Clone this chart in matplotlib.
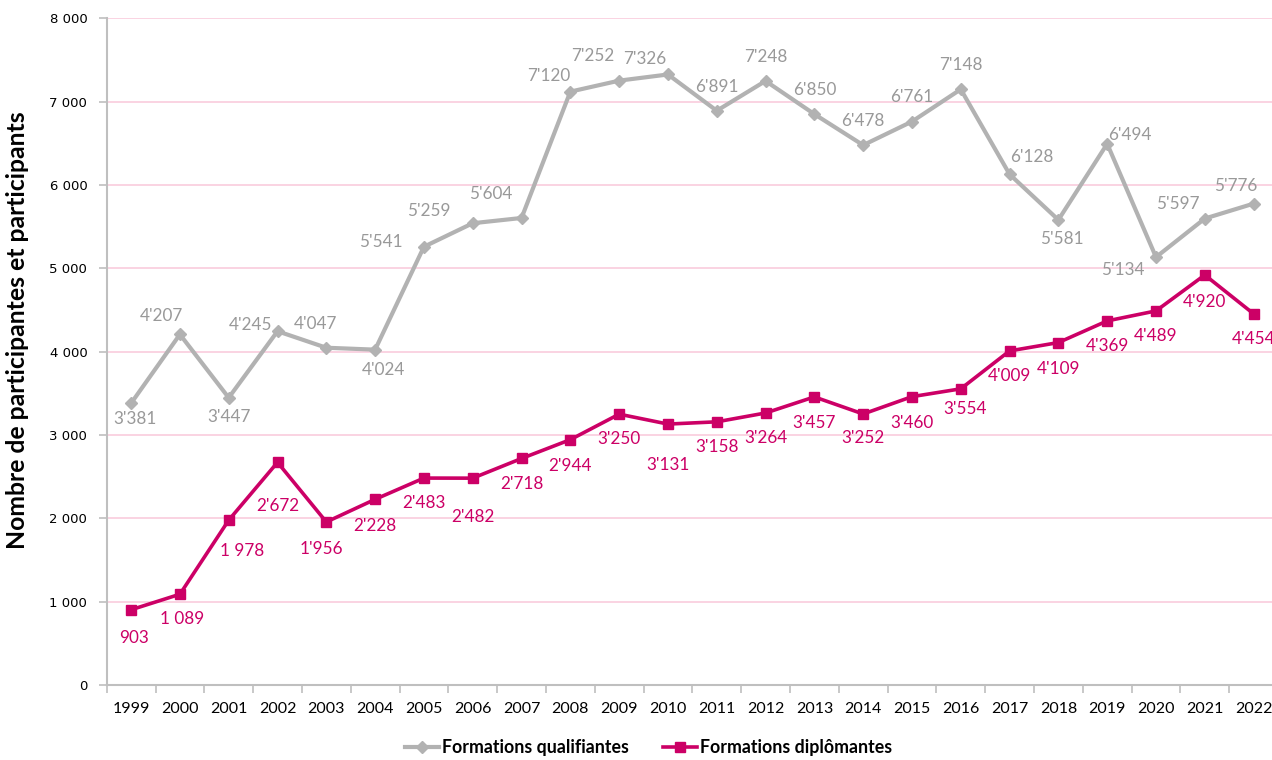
#!/usr/bin/env python3

import matplotlib
matplotlib.use("Agg")
import matplotlib.pyplot as plt
from matplotlib.ticker import FixedLocator, FuncFormatter

# data
years = list(range(1999, 2023))
qualifiantes = [3381, 4207, 3447, 4245, 4047, 4024, 5259, 5541, 5604, 7120,
                7252, 7326, 6891, 7248, 6850, 6478, 6761, 7148, 6128, 5581,
                6494, 5134, 5597, 5776]
diplomantes = [903, 1089, 1978, 2672, 1956, 2228, 2483, 2482, 2718, 2944,
               3250, 3131, 3158, 3264, 3457, 3252, 3460, 3554, 4009, 4109,
               4369, 4489, 4920, 4454]
dipl_space_years = {2000, 2001}  # these labels use a space instead of an apostrophe

GREY = "#B2B2B2"
GREY_TXT = "#999999"
MAGENTA = "#CC0066"
GRID = "#F9CCDD"
AXIS = "#BFBFBF"

# label offsets in pixels (dx right, dy down) as placed in the original
q_off = [(4, 16), (-18, -18), (0, 19), (-27, -6), (-11, -24), (8, 20),
         (5, -36), (-92, 19), (-31, -24), (-22, -16), (-26, -25), (-23, -15),
         (0, -24), (0, -24), (0, -24), (0, -24), (0, -25), (0, -24),
         (22, -17), (3, 19), (23, -9), (-33, 13), (-27, -15), (-18, -18)]
d_off = [(3, 28), (2, 25), (13, 31), (0, 44), (-5, 27), (0, 27), (0, 25),
         (0, 39), (0, 26), (0, 26), (0, 25), (0, 41), (0, 25), (0, 25),
         (0, 26), (0, 24), (0, 26), (4, 20), (0, 25), (0, 26), (0, 25),
         (0, 25), (0, 27), (0, 25)]


def fmt(v, sep="'"):
    if v < 1000:
        return str(v)
    return f"{v // 1000}{sep}{v % 1000:03d}"


fig = plt.figure(figsize=(12.72, 7.6), dpi=100)
ax = fig.add_axes([106.7 / 1272, 75 / 760, (1278 - 106.7) / 1272, (685 - 18.3) / 760])

x = list(range(len(years)))
ax.plot(x, qualifiantes, color=GREY, lw=3.0, marker="D", ms=6,
        mec=GREY, mfc=GREY, label="Formations qualifiantes", zorder=3)
ax.plot(x, diplomantes, color=MAGENTA, lw=2.6, marker="s", ms=7,
        mec=MAGENTA, mfc=MAGENTA, label="Formations diplômantes", zorder=4)

for i, yr in enumerate(years):
    dx, dy = q_off[i]
    ax.annotate(fmt(qualifiantes[i]), (x[i], qualifiantes[i]),
                xytext=(dx, -dy), textcoords="offset pixels",
                ha="center", va="center", color=GREY_TXT,
                fontsize=12.3, family="Lato", zorder=5)
    dx, dy = d_off[i]
    sep = " " if yr in dipl_space_years else "'"
    ax.annotate(fmt(diplomantes[i], sep), (x[i], diplomantes[i]),
                xytext=(dx, -dy), textcoords="offset pixels",
                ha="center", va="center", color=MAGENTA,
                fontsize=12.3, family="Lato", zorder=5)

ax.set_xlim(-0.5, len(years) - 0.5)
ax.set_ylim(0, 8000)
ax.set_yticks(range(0, 8001, 1000))
ax.yaxis.set_major_formatter(FuncFormatter(lambda v, p: f"{int(v):,}".replace(",", " ")))
ax.grid(axis="y", color=GRID, lw=1.2, zorder=0)
ax.set_axisbelow(True)

ax.set_xticks(x)
ax.set_xticklabels([str(y) for y in years], family="Lato", fontsize=11.5)
ax.xaxis.set_minor_locator(FixedLocator([i - 0.5 for i in range(len(years) + 1)]))
ax.tick_params(axis="x", which="major", length=0, pad=12)
ax.tick_params(axis="x", which="minor", length=6, color=AXIS, width=1.2)
ax.tick_params(axis="y", length=6, color=AXIS, width=1.2, labelsize=9.5, pad=8)

for s in ["top", "right"]:
    ax.spines[s].set_visible(False)
for s in ["left", "bottom"]:
    ax.spines[s].set_color(AXIS)
    ax.spines[s].set_linewidth(1.5)

ax.set_ylabel("Nombre de participantes et participants", fontsize=17.8,
              fontweight="bold", family="Lato")
ax.yaxis.set_label_coords(-0.066, 0.532)

leg = fig.legend(loc="center", bbox_to_anchor=(0.51, 12 / 760), ncol=2,
                 frameon=False, handlelength=1.9, columnspacing=1.9,
                 handletextpad=0.2, prop={"family": "Lato", "weight": "bold", "size": 12.8})

fig.savefig("out.png", dpi=100)
